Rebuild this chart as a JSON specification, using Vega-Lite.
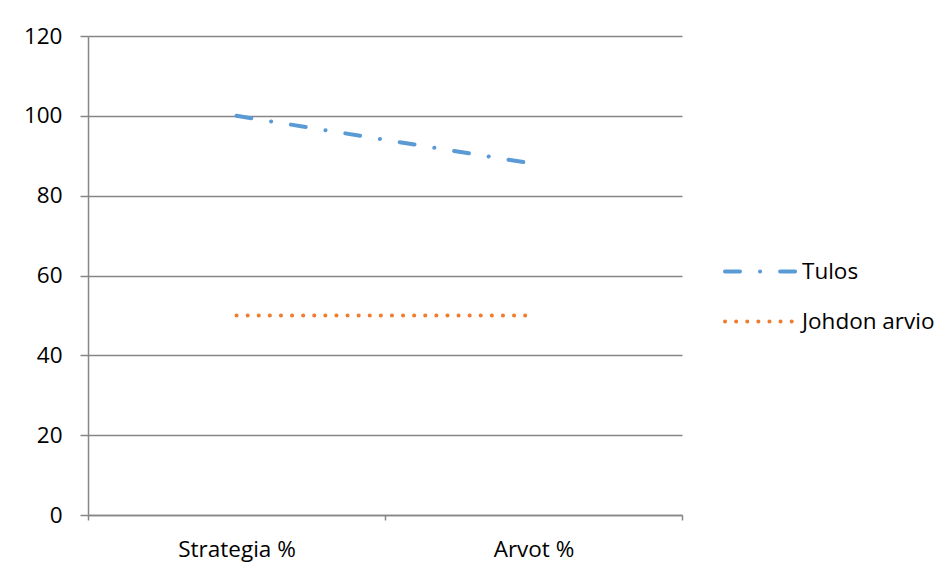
{
  "$schema": "https://vega.github.io/schema/vega-lite/v6.json",
  "width": 594,
  "height": 479,
  "autosize": "none",
  "padding": {"left": 88, "top": 36, "right": 270, "bottom": 64},
  "background": "white",
  "data": {
    "values": [
      {"kategoria": "Strategia %", "sarja": "Tulos", "arvo": 100},
      {"kategoria": "Arvot %", "sarja": "Tulos", "arvo": 88},
      {"kategoria": "Strategia %", "sarja": "Johdon arvio", "arvo": 50},
      {"kategoria": "Arvot %", "sarja": "Johdon arvio", "arvo": 50}
    ]
  },
  "mark": {"type": "line", "strokeWidth": 4, "strokeCap": "round"},
  "encoding": {
    "x": {
      "field": "kategoria", "type": "nominal", "sort": ["Strategia %", "Arvot %"],
      "scale": {"paddingInner": 0, "paddingOuter": 0},
      "axis": {"title": null, "labelAngle": 0, "tickBand": "extent",
        "domainColor": "#868686", "domainWidth": 1.5, "tickColor": "#868686", "tickSize": 5, "tickWidth": 1.5,
        "labelFont": "Open Sans", "labelFontSize": 22.5, "labelColor": "#000000", "labelPadding": 18, "grid": false}
    },
    "y": {
      "field": "arvo", "type": "quantitative",
      "scale": {"domain": [0, 120], "nice": false},
      "axis": {"title": null, "values": [0, 20, 40, 60, 80, 100, 120],
        "domainColor": "#868686", "domainWidth": 1.5, "tickColor": "#868686", "tickSize": 8, "tickWidth": 1.5,
        "gridColor": "#868686", "gridWidth": 1.5, "grid": true,
        "labelFont": "Open Sans", "labelFontSize": 22.5, "labelColor": "#000000", "labelPadding": 18}
    },
    "color": {
      "field": "sarja", "type": "nominal",
      "scale": {"domain": ["Tulos", "Johdon arvio"], "range": ["#5b9bd5", "#ed7d31"]},
      "legend": {"title": null, "orient": "none", "legendX": 635, "legendY": 197,
        "symbolType": "stroke", "symbolSize": 5329, "symbolStrokeWidth": 4,
        "labelFont": "Open Sans", "labelFontSize": 22.5, "labelColor": "#000000", "labelOffset": 2,
        "rowPadding": -37,
        "encode": {"symbols": {"update": {"strokeCap": {"value": "round"}}}}}
    },
    "strokeDash": {
      "field": "sarja", "type": "nominal",
      "scale": {"domain": ["Tulos", "Johdon arvio"], "range": [[15, 20, 0.1, 20], [0.1, 11]]},
      "legend": null
    }
  },
  "config": {"view": {"stroke": null}}
}
